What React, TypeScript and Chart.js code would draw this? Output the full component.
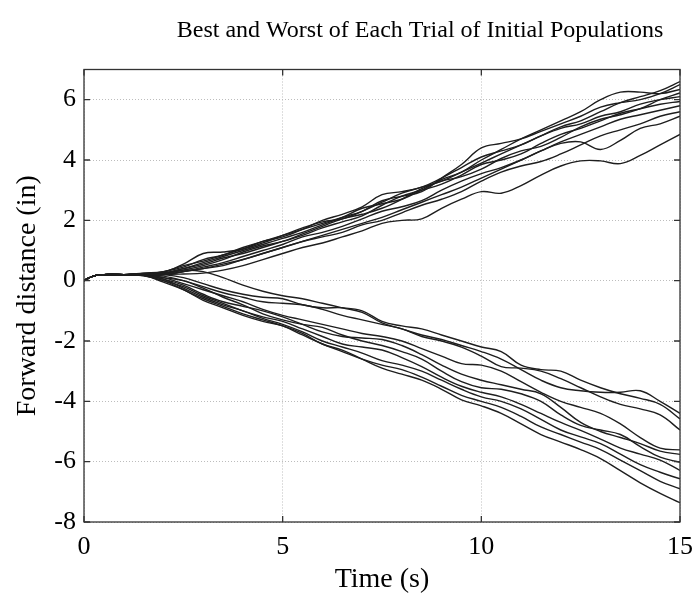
import React, { useEffect, useRef } from "react";
import { Chart, registerables } from "chart.js";

Chart.register(...registerables);

const TITLE = "Best and Worst of Each Trial of Initial Populations";
const X_LABEL = "Time (s)";
const Y_LABEL = "Forward distance (in)";

const TIME = [0, 0.25, 0.5, 1, 1.5, 2, 2.5, 3, 3.5, 4, 4.5, 5, 5.5, 6, 6.5, 7, 7.5, 8, 8.5, 9, 9.5, 10, 10.5, 11, 11.5, 12, 12.5, 13, 13.5, 14, 14.5, 15];
const X_TICKS = [0, 5, 10, 15];
const Y_TICKS = [-8, -6, -4, -2, 0, 2, 4, 6];

// "Best" runs (upper bundle)
const UP_1 = [0, 0.16, 0.2, 0.2, 0.22, 0.3, 0.45, 0.7, 0.85, 1.1, 1.3, 1.5, 1.7, 1.9, 2.1, 2.3, 2.6, 2.9, 3.1, 3.3, 3.6, 3.9, 4.2, 4.5, 4.8, 5.1, 5.3, 5.6, 5.9, 6.1, 6.3, 6.6];
const UP_2 = [0, 0.16, 0.2, 0.2, 0.24, 0.28, 0.55, 0.9, 0.95, 1.05, 1.25, 1.5, 1.75, 1.95, 2.05, 2.3, 2.65, 2.8, 2.95, 3.4, 3.85, 4.4, 4.55, 4.7, 4.95, 5.2, 5.45, 5.75, 5.9, 6.0, 6.2, 6.5];
const UP_3 = [0, 0.16, 0.2, 0.2, 0.2, 0.25, 0.4, 0.6, 0.8, 1.0, 1.2, 1.4, 1.6, 1.85, 2.1, 2.4, 2.55, 2.7, 3.0, 3.35, 3.6, 4.0, 4.35, 4.7, 5.0, 5.3, 5.6, 6.0, 6.25, 6.25, 6.2, 6.34];
const UP_4 = [0, 0.16, 0.2, 0.2, 0.21, 0.22, 0.35, 0.5, 0.7, 0.95, 1.15, 1.3, 1.55, 1.8, 2.05, 2.2, 2.4, 2.7, 3.05, 3.3, 3.45, 3.7, 4.05, 4.3, 4.45, 4.75, 5.1, 5.35, 5.5, 5.7, 6.0, 6.22];
const UP_5 = [0, 0.16, 0.2, 0.2, 0.25, 0.3, 0.5, 0.65, 0.85, 1.05, 1.3, 1.45, 1.7, 2.0, 2.2, 2.45, 2.85, 2.95, 3.1, 3.4, 3.75, 4.1, 4.3, 4.5, 4.8, 5.05, 5.2, 5.45, 5.6, 5.85, 6.0, 6.1];
const UP_6 = [0, 0.16, 0.2, 0.2, 0.19, 0.25, 0.4, 0.55, 0.75, 0.9, 1.1, 1.3, 1.5, 1.75, 1.95, 2.15, 2.5, 2.8, 3.0, 3.2, 3.5, 3.85, 4.0, 4.2, 4.55, 4.85, 5.05, 5.3, 5.55, 5.7, 5.85, 5.94];
const UP_7 = [0, 0.16, 0.2, 0.2, 0.2, 0.2, 0.3, 0.45, 0.6, 0.8, 1.0, 1.2, 1.45, 1.6, 1.8, 2.05, 2.3, 2.45, 2.65, 3.0, 3.3, 3.55, 3.75, 4.0, 4.3, 4.6, 4.85, 5.1, 5.35, 5.5, 5.65, 5.8];
const UP_8 = [0, 0.16, 0.2, 0.2, 0.18, 0.2, 0.3, 0.4, 0.5, 0.7, 0.9, 1.1, 1.3, 1.45, 1.6, 1.85, 2.0, 2.25, 2.5, 2.7, 2.95, 3.3, 3.6, 3.8, 3.95, 4.2, 4.5, 4.8, 5.0, 5.2, 5.45, 5.6];
const UP_9 = [0, 0.16, 0.2, 0.2, 0.22, 0.2, 0.3, 0.4, 0.55, 0.7, 0.9, 1.1, 1.3, 1.5, 1.7, 1.9, 2.1, 2.35, 2.6, 2.85, 3.1, 3.4, 3.7, 4.0, 4.3, 4.55, 4.6, 4.35, 4.65, 5.05, 5.2, 5.45];
const UP_10 = [0, 0.16, 0.2, 0.2, 0.2, 0.2, 0.22, 0.25, 0.35, 0.5, 0.7, 0.9, 1.1, 1.25, 1.45, 1.65, 1.9, 2.0, 2.05, 2.4, 2.7, 2.95, 2.9, 3.15, 3.5, 3.8, 3.97, 3.97, 3.88, 4.15, 4.5, 4.85];

// "Worst" runs (lower bundle)
const LOW_1 = [0, 0.16, 0.2, 0.2, 0.24, 0.25, 0.35, 0.3, 0.1, -0.15, -0.35, -0.5, -0.6, -0.75, -0.9, -1.05, -1.4, -1.6, -1.8, -1.95, -2.15, -2.35, -2.6, -2.95, -3.3, -3.55, -3.65, -3.7, -3.7, -3.65, -4.0, -4.4];
const LOW_2 = [0, 0.16, 0.2, 0.2, 0.22, 0.2, 0.1, -0.1, -0.3, -0.45, -0.55, -0.6, -0.8, -0.9, -0.9, -1.0, -1.35, -1.5, -1.6, -1.8, -2.0, -2.2, -2.35, -2.8, -2.95, -3.0, -3.3, -3.55, -3.75, -3.9, -4.1, -4.58];
const LOW_3 = [0, 0.16, 0.2, 0.2, 0.2, 0.15, 0.0, -0.2, -0.4, -0.55, -0.7, -0.75, -0.8, -0.95, -1.15, -1.3, -1.45, -1.6, -1.85, -2.0, -2.2, -2.5, -2.85, -2.9, -3.0, -3.25, -3.55, -3.85, -4.1, -4.25, -4.45, -4.95];
const LOW_4 = [0, 0.16, 0.2, 0.2, 0.19, 0.1, -0.1, -0.3, -0.5, -0.7, -0.95, -1.15, -1.3, -1.45, -1.6, -1.75, -1.85, -2.0, -2.25, -2.5, -2.75, -2.8, -3.0, -3.35, -3.7, -4.0, -4.2, -4.4, -4.75, -5.2, -5.55, -5.61];
const LOW_5 = [0, 0.16, 0.2, 0.2, 0.18, 0.05, -0.15, -0.45, -0.7, -0.85, -1.0, -1.2, -1.45, -1.7, -1.85, -1.9, -1.95, -2.15, -2.45, -2.8, -3.1, -3.3, -3.45, -3.6, -3.75, -4.2, -4.7, -5.0, -5.2, -5.4, -5.65, -5.76];
const LOW_6 = [0, 0.16, 0.2, 0.2, 0.21, 0.1, 0.0, -0.25, -0.55, -0.8, -1.1, -1.3, -1.45, -1.55, -1.8, -2.0, -2.15, -2.35, -2.6, -3.0, -3.35, -3.55, -3.6, -3.75, -4.0, -4.45, -4.8, -4.95, -5.1, -5.5, -5.85, -6.02];
const LOW_7 = [0, 0.16, 0.2, 0.2, 0.17, 0.0, -0.2, -0.5, -0.75, -1.0, -1.2, -1.35, -1.6, -1.85, -2.1, -2.2, -2.3, -2.55, -2.85, -3.2, -3.5, -3.7, -3.85, -4.1, -4.4, -4.7, -4.96, -5.25, -5.55, -5.75, -5.95, -6.29];
const LOW_8 = [0, 0.16, 0.2, 0.2, 0.2, 0.05, -0.25, -0.55, -0.8, -1.0, -1.25, -1.45, -1.7, -2.0, -2.2, -2.4, -2.65, -2.8, -3.0, -3.3, -3.6, -3.85, -4.0, -4.25, -4.6, -4.95, -5.18, -5.4, -5.75, -6.1, -6.35, -6.57];
const LOW_9 = [0, 0.16, 0.2, 0.2, 0.16, 0.0, -0.3, -0.6, -0.85, -1.1, -1.3, -1.5, -1.8, -2.1, -2.35, -2.6, -2.8, -2.95, -3.2, -3.5, -3.8, -4.0, -4.2, -4.5, -4.85, -5.1, -5.35, -5.6, -5.95, -6.3, -6.65, -6.9];
const LOW_10 = [0, 0.16, 0.2, 0.2, 0.18, -0.05, -0.3, -0.65, -0.9, -1.15, -1.35, -1.5, -1.75, -2.1, -2.3, -2.6, -2.9, -3.1, -3.3, -3.6, -3.95, -4.15, -4.4, -4.75, -5.1, -5.35, -5.6, -5.9, -6.3, -6.7, -7.05, -7.36];

const SERIES = [UP_1, UP_2, UP_3, UP_4, UP_5, UP_6, UP_7, UP_8, UP_9, UP_10, LOW_1, LOW_2, LOW_3, LOW_4, LOW_5, LOW_6, LOW_7, LOW_8, LOW_9, LOW_10];

const FONT = "'Liberation Serif', 'Times New Roman', Times, serif";

const frameTicks = {
  id: "frameTicks",
  afterDraw(chart: any) {
    const { ctx, chartArea, scales } = chart;
    const { left, right, top, bottom } = chartArea;
    const x = scales.x;
    const y = scales.y;
    const L = 6;
    ctx.save();
    ctx.strokeStyle = "#333";
    ctx.lineWidth = 1.3;
    ctx.beginPath();
    for (const v of X_TICKS) {
      const px = x.getPixelForValue(v);
      ctx.moveTo(px, bottom);
      ctx.lineTo(px, bottom - L);
      ctx.moveTo(px, top);
      ctx.lineTo(px, top + L);
    }
    for (const v of Y_TICKS) {
      const py = y.getPixelForValue(v);
      ctx.moveTo(left, py);
      ctx.lineTo(left + L, py);
      ctx.moveTo(right, py);
      ctx.lineTo(right - L, py);
    }
    ctx.stroke();
    ctx.strokeRect(left, top, right - left, bottom - top);
    // chart title
    ctx.fillStyle = "#000";
    ctx.font = "24px " + FONT;
    ctx.textAlign = "center";
    ctx.textBaseline = "middle";
    ctx.fillText(TITLE, 420, 31);
    ctx.restore();
  },
};

export default function App() {
  const ref = useRef<HTMLCanvasElement | null>(null);
  useEffect(() => {
    if (!ref.current) return;
    const chart = new Chart(ref.current, {
      type: "line",
      data: {
        datasets: SERIES.map((vals, i) => ({
          label: "run " + (i + 1),
          data: TIME.map((t, j) => ({ x: t, y: vals[j] })),
          borderColor: "#1e1e1e",
          borderWidth: 1.4,
          pointRadius: 0,
          tension: 0.4,
          fill: false,
        })),
      },
      options: {
        animation: false,
        responsive: false,
        layout: { padding: { left: 0, right: 14, top: 69.5, bottom: 0 } },
        plugins: {
          legend: { display: false },
          tooltip: { enabled: false },
          title: { display: false },
        },
        scales: {
          x: {
            type: "linear",
            min: 0,
            max: 15,
            afterBuildTicks: (s: any) => {
              s.ticks = X_TICKS.map((v) => ({ value: v }));
            },
            afterFit: (s: any) => {
              s.height = 75;
              s.paddingLeft = 0;
              s.paddingRight = 0;
            },
            grid: { color: "#bdbdbd", lineWidth: 1, drawTicks: false },
            border: { display: false, dash: [1, 2] },
            ticks: { color: "#000", font: { family: FONT, size: 26 }, padding: 10, maxRotation: 0, autoSkip: false },
            title: { display: true, text: X_LABEL, color: "#000", font: { family: FONT, size: 28 }, padding: { top: 0, bottom: 1 } },
          },
          y: {
            type: "linear",
            min: -8,
            max: 7,
            afterBuildTicks: (s: any) => {
              s.ticks = Y_TICKS.map((v) => ({ value: v }));
            },
            afterFit: (s: any) => {
              s.width = 84;
              s.paddingTop = 0;
              s.paddingBottom = 0;
            },
            grid: { color: "#bdbdbd", lineWidth: 1, drawTicks: false },
            border: { display: false, dash: [1, 2] },
            ticks: { color: "#000", font: { family: FONT, size: 26 }, padding: 8, autoSkip: false },
            title: { display: true, text: Y_LABEL, color: "#000", font: { family: FONT, size: 28 }, padding: { top: 11, bottom: 0 } },
          },
        },
      },
      plugins: [frameTicks],
    });
    return () => chart.destroy();
  }, []);
  return (
    <div style={{ position: "fixed", left: 0, top: 0, width: 694, height: 597, background: "#fff" }}>
      <canvas ref={ref} width={694} height={597} />
    </div>
  );
}
